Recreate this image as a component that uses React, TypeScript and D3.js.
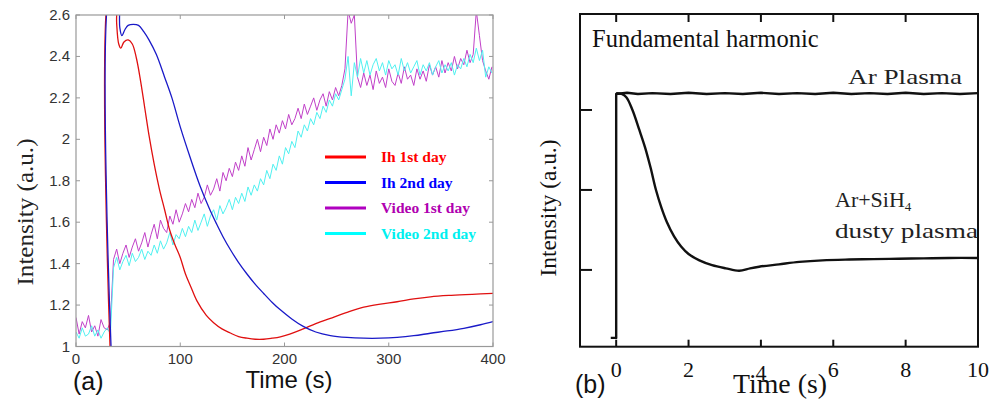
import * as d3 from "d3";
import React from "react";

// ---- panel (a) data ----
// Ih curves: [time (s), intensity]
const ih1stDay: [number, number][] = [
  [33, 0.95], [33, 2.75], [38, 2.75], [39, 2.56], [41, 2.46], [43, 2.44], [46, 2.47],
  [50, 2.48], [54, 2.46], [58, 2.39], [62, 2.28], [66, 2.15], [70, 2.02], [75, 1.88],
  [80, 1.76], [85, 1.66], [90, 1.56], [95, 1.49], [100, 1.43], [105, 1.35], [110, 1.29],
  [116, 1.22], [125, 1.15], [132, 1.115], [140, 1.085], [148, 1.065], [156, 1.048],
  [164, 1.04], [172, 1.035], [180, 1.035], [188, 1.04], [196, 1.047], [205, 1.06],
  [218, 1.085], [230, 1.11], [244, 1.136], [260, 1.165], [276, 1.19], [292, 1.205],
  [308, 1.216], [324, 1.23], [340, 1.24], [360, 1.247], [380, 1.252], [400, 1.256],
];

const ih2ndDay: [number, number][] = [
  [34, 0.95], [34, 2.75], [40, 2.75], [42, 2.54], [44, 2.5], [47, 2.53], [50, 2.55],
  [55, 2.555], [60, 2.55], [65, 2.52], [70, 2.48], [77, 2.41], [85, 2.3], [92, 2.2],
  [100, 2.06], [110, 1.905], [119, 1.775], [128, 1.665], [135, 1.59], [141, 1.53],
  [148, 1.468], [156, 1.405], [164, 1.35], [172, 1.3], [180, 1.256], [188, 1.214],
  [196, 1.177], [207, 1.133], [218, 1.097], [230, 1.07], [244, 1.053], [260, 1.044],
  [276, 1.04], [292, 1.04], [308, 1.044], [324, 1.052], [340, 1.064], [356, 1.075],
  [372, 1.088], [388, 1.105], [400, 1.12],
];

// video traces, one value every videoStep seconds from t = 0
const videoStep = 3;
const video1stDay = [
  1.14, 1.06, 1.12, 1.09, 1.15, 1.07, 1.1, 1.05, 1.13, 1.09, 1.08, 1.12,
  1.42, 1.47, 1.4, 1.45, 1.49, 1.43, 1.48, 1.52, 1.46, 1.5, 1.55, 1.48,
  1.54, 1.59, 1.52, 1.61, 1.57, 1.55, 1.63, 1.59, 1.66, 1.6, 1.64, 1.69,
  1.65, 1.71, 1.67, 1.74, 1.69, 1.72, 1.78, 1.73, 1.76, 1.81, 1.75, 1.84,
  1.8, 1.86, 1.82, 1.89, 1.85, 1.92, 1.87, 1.96, 1.9, 1.95, 2.0, 1.94,
  2.01, 1.97, 2.05, 2.0, 2.07, 2.03, 2.09, 2.05, 2.12, 2.07, 2.1, 2.15,
  2.1, 2.17, 2.12, 2.16, 2.2, 2.14, 2.19, 2.22, 2.16, 2.23, 2.19, 2.25,
  2.21, 2.26, 2.34, 2.62, 2.56, 2.6, 2.3, 2.25, 2.32, 2.26, 2.31, 2.24,
  2.33, 2.27, 2.3, 2.25, 2.34, 2.28, 2.26, 2.32, 2.27, 2.35, 2.29, 2.31,
  2.26, 2.34, 2.29, 2.33, 2.28, 2.36, 2.31, 2.35, 2.3, 2.38, 2.32, 2.37,
  2.33, 2.4, 2.34, 2.39, 2.36, 2.43, 2.37, 2.41, 2.62, 2.5, 2.38, 2.33,
  2.29, 2.35,
];
const video2ndDay = [
  1.07, 1.04, 1.09, 1.05, 1.06, 1.1, 1.05, 1.08, 1.04, 1.07, 1.09, 1.06,
  1.38, 1.43, 1.37, 1.41, 1.44, 1.39, 1.45, 1.41, 1.43, 1.47, 1.42, 1.46,
  1.44, 1.49, 1.45, 1.51, 1.47, 1.5, 1.55, 1.49, 1.54, 1.52, 1.57, 1.53,
  1.58, 1.55, 1.61, 1.56, 1.6, 1.64, 1.58, 1.63, 1.66, 1.61, 1.68, 1.64,
  1.67, 1.71, 1.66, 1.72, 1.69, 1.74, 1.7, 1.77, 1.73, 1.78, 1.75, 1.81,
  1.78, 1.85, 1.81, 1.88, 1.85, 1.92, 1.88, 1.96, 1.93, 1.99, 1.96, 2.04,
  2.01, 2.07, 2.04, 2.1, 2.07, 2.13, 2.1, 2.16, 2.13, 2.19, 2.16, 2.22,
  2.19, 2.24, 2.29, 2.4, 2.21, 2.37, 2.3, 2.39, 2.32, 2.38, 2.31, 2.36,
  2.39, 2.33, 2.37, 2.31, 2.38, 2.34, 2.36, 2.31, 2.39, 2.33, 2.37, 2.32,
  2.35, 2.38, 2.31, 2.36, 2.33, 2.37, 2.31, 2.35, 2.38, 2.32, 2.36, 2.33,
  2.37, 2.31, 2.36, 2.34, 2.39, 2.35, 2.41, 2.37, 2.44, 2.38, 2.43, 2.3,
  2.35, 2.32,
];

const aXTicks = [0, 100, 200, 300, 400];
const aYTicks = [1, 1.2, 1.4, 1.6, 1.8, 2, 2.2, 2.4, 2.6];

const legendItems = [
  { label: "Ih 1st day", line: "#ff0000", text: "#ff0000" },
  { label: "Ih 2nd day", line: "#0000ff", text: "#0000ff" },
  { label: "Video 1st day", line: "#b000c0", text: "#b000b0" },
  { label: "Video 2nd day", line: "#00ffff", text: "#00f0f0" },
];

// ---- panel (b) data ----
const arPlasma: [number, number][] = [
  [-0.15, 0.15], [0, 0.15], [0, 3.2], [0.3, 3.215], [0.6, 3.2], [1, 3.21], [1.5, 3.2],
  [2, 3.215], [2.5, 3.2], [3, 3.21], [3.5, 3.2], [4, 3.215], [4.5, 3.2], [5, 3.21],
  [5.5, 3.2], [6, 3.215], [6.5, 3.2], [7, 3.21], [7.5, 3.2], [8, 3.215], [8.5, 3.2],
  [9, 3.21], [9.5, 3.2], [10, 3.21],
];
const dustyPlasma: [number, number][] = [
  [0, 3.21], [0.15, 3.2], [0.28, 3.16], [0.45, 3.0], [0.64, 2.75], [0.8, 2.53],
  [0.95, 2.28], [1.1, 2.0], [1.25, 1.78], [1.4, 1.6], [1.6, 1.42], [1.8, 1.29],
  [2.0, 1.2], [2.3, 1.12], [2.65, 1.06], [3.03, 1.02], [3.4, 0.99],
  [3.7, 1.02], [3.95, 1.04], [4.5, 1.07], [5.06, 1.1], [5.7, 1.12], [6.44, 1.13],
  [7.1, 1.135], [7.8, 1.14], [8.5, 1.145], [9.2, 1.15], [10, 1.15],
];
const bXTicks = [0, 2, 4, 6, 8, 10];
const bYTicks = [1, 2, 3];

const SANS = "'Liberation Sans', Arial, sans-serif";
const SERIF = "'Liberation Serif', 'Times New Roman', serif";

export default function App() {
  // panel (a) scales
  const ax = d3.scaleLinear().domain([0, 400]).range([76, 493]);
  const ay = d3.scaleLinear().domain([1, 2.6]).range([346.5, 15]);
  // panel (b) scales
  const bx = d3.scaleLinear().domain([-1, 10]).range([580, 978]);
  const by = d3.scaleLinear().domain([0.04, 4.2]).range([346.7, 14]);

  const ihLine = d3
    .line<[number, number]>()
    .x((d) => ax(d[0]))
    .y((d) => ay(d[1]))
    .curve(d3.curveCatmullRom.alpha(0.5));
  const videoLine = d3
    .line<number>()
    .x((d, i) => ax(i * videoStep))
    .y((d) => ay(d));
  const bSmooth = d3
    .line<[number, number]>()
    .x((d) => bx(d[0]))
    .y((d) => by(d[1]))
    .curve(d3.curveCatmullRom.alpha(0.5));
  const bStraight = d3
    .line<[number, number]>()
    .x((d) => bx(d[0]))
    .y((d) => by(d[1]));

  const [x0, x1] = ax.range();
  const [y0, y1] = ay.range();
  const [bx0, bx1] = bx.range();
  const [by0, by1] = by.range();
  const tk = 4;

  return (
    <div style={{ position: "absolute", left: 0, top: 0, width: 1000, height: 400, background: "#fff" }}>
      <svg width={1000} height={400} style={{ display: "block" }}>
        <defs>
          <clipPath id="clipA">
            <rect x={x0} y={y1} width={x1 - x0} height={y0 - y1} />
          </clipPath>
        </defs>

        {/* ---------- panel (a) ---------- */}
        <g clipPath="url(#clipA)" fill="none">
          <path d={videoLine(video1stDay) || ""} stroke="#c040c8" strokeWidth={1} />
          <path d={videoLine(video2ndDay) || ""} stroke="#50f0f0" strokeWidth={1} />
          <path d={ihLine(ih1stDay) || ""} stroke="#e01010" strokeWidth={1.3} />
          <path d={ihLine(ih2ndDay) || ""} stroke="#1a1ac8" strokeWidth={1.3} />
        </g>
        <rect x={x0} y={y1} width={x1 - x0} height={y0 - y1} fill="none" stroke="#999" strokeWidth={1.2} />
        <g stroke="#999" strokeWidth={1}>
          {aXTicks.map((t) => (
            <g key={"ax" + t}>
              <line x1={ax(t)} x2={ax(t)} y1={y0} y2={y0 - tk} />
              <line x1={ax(t)} x2={ax(t)} y1={y1} y2={y1 + tk} />
            </g>
          ))}
          {aYTicks.map((t) => (
            <g key={"ay" + t}>
              <line x1={x0} x2={x0 + tk} y1={ay(t)} y2={ay(t)} />
              <line x1={x1} x2={x1 - tk} y1={ay(t)} y2={ay(t)} />
            </g>
          ))}
        </g>
        <g fontFamily={SANS} fontSize={15} fill="#333">
          {aXTicks.map((t) => (
            <text key={"axl" + t} x={ax(t)} y={y0 + 17} textAnchor="middle">
              {t}
            </text>
          ))}
          {aYTicks.map((t) => (
            <text key={"ayl" + t} x={x0 - 6} y={ay(t) + 5} textAnchor="end">
              {t}
            </text>
          ))}
        </g>
        <text
          transform="translate(33,212) rotate(-90)"
          textAnchor="middle"
          fontFamily={SERIF}
          fontSize={24}
          textLength={147}
          lengthAdjust="spacingAndGlyphs"
          fill="#222"
        >
          Intensity (a.u.)
        </text>
        <text x={289} y={388} textAnchor="middle" fontFamily={SANS} fontSize={24} fill="#111">
          Time (s)
        </text>
        <text x={73} y={390} fontFamily={SANS} fontSize={25} fill="#111">
          (a)
        </text>

        {/* legend */}
        <g>
          {legendItems.map((d, i) => {
            const ly = 157 + i * 25.5;
            return (
              <g key={d.label}>
                <line x1={325} x2={366} y1={ly} y2={ly} stroke={d.line} strokeWidth={3} />
                <text
                  x={381}
                  y={ly + 5}
                  fontFamily={SERIF}
                  fontWeight="bold"
                  fontSize={15.5}
                  fill={d.text}
                >
                  {d.label}
                </text>
              </g>
            );
          })}
        </g>

        {/* ---------- panel (b) ---------- */}
        <g fill="none" stroke="#111" strokeWidth={2.4} strokeLinejoin="round">
          <path d={bStraight(arPlasma) || ""} />
          <path d={bSmooth(dustyPlasma) || ""} />
        </g>
        <rect x={bx0} y={by1} width={bx1 - bx0} height={by0 - by1} fill="none" stroke="#111" strokeWidth={2} />
        <g stroke="#111" strokeWidth={2}>
          {bXTicks.map((t) => (
            <g key={"bx" + t}>
              <line x1={bx(t)} x2={bx(t)} y1={by0} y2={by0 - 7} />
              <line x1={bx(t)} x2={bx(t)} y1={by1} y2={by1 + 8} />
            </g>
          ))}
          {bYTicks.map((t) => (
            <line key={"by" + t} x1={bx0} x2={bx0 + 12} y1={by(t)} y2={by(t)} />
          ))}
        </g>
        <g fontFamily={SERIF} fontSize={22} fill="#111" textAnchor="middle">
          {bXTicks.map((t, i) => (
            <text key={"bxl" + t} x={bx(t)} y={by0 + (i === 2 ? 33 : 30)}>
              {t}
            </text>
          ))}
        </g>
        <text
          transform="translate(556,208) rotate(-90)"
          textAnchor="middle"
          fontFamily={SERIF}
          fontSize={23}
          textLength={137}
          lengthAdjust="spacingAndGlyphs"
          fill="#111"
        >
          Intensity (a.u.)
        </text>
        <text x={780} y={393} textAnchor="middle" fontFamily={SERIF} fontSize={27} textLength={94} lengthAdjust="spacingAndGlyphs" fill="#111">
          Time (s)
        </text>
        <text x={575} y={393} fontFamily={SANS} fontSize={25} fill="#111">
          (b)
        </text>
        <text x={592} y={47} fontFamily={SERIF} fontSize={24.5} fill="#111">
          Fundamental harmonic
        </text>
        <text x={848} y={84} fontFamily={SERIF} fontSize={22} textLength={114} lengthAdjust="spacingAndGlyphs" fill="#222">
          Ar Plasma
        </text>
        <text x={835} y={207} fontFamily={SERIF} fontSize={22} fill="#222">
          Ar+SiH
          <tspan fontSize={13} dy={4}>4</tspan>
        </text>
        <text x={835} y={238} fontFamily={SERIF} fontSize={22} textLength={143} lengthAdjust="spacingAndGlyphs" fill="#222">
          dusty plasma
        </text>
      </svg>
    </div>
  );
}
